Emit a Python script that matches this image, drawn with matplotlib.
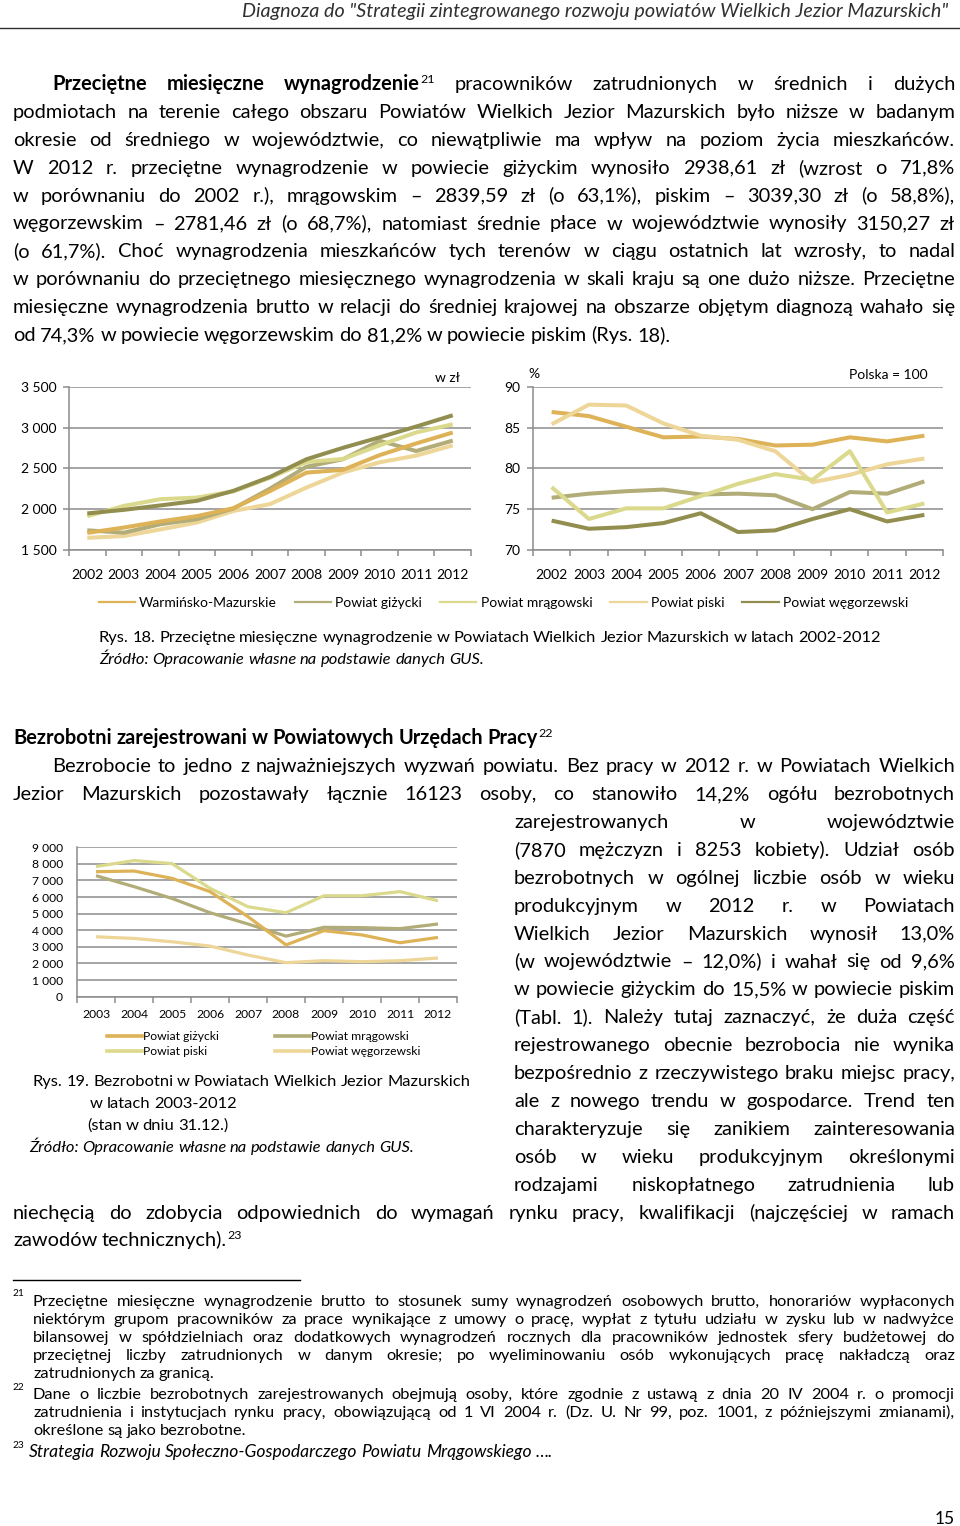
import matplotlib
matplotlib.use("Agg")
import matplotlib.pyplot as plt
import numpy as np
from matplotlib.lines import Line2D
from matplotlib.ticker import FuncFormatter
from matplotlib.transforms import IdentityTransform

W, H = 960, 1526
FONT = ["Lato", "DejaVu Sans"]
plt.rcParams["font.family"] = FONT

# --- data -------------------------------------------------------------------
YEARS_WAGE = ["2002", "2003", "2004", "2005", "2006", "2007",
              "2008", "2009", "2010", "2011", "2012"]
SERIES_WAGE = ["Warmińsko-Mazurskie", "Powiat giżycki", "Powiat mrągowski",
               "Powiat piski", "Powiat węgorzewski"]

# average monthly wage, zl
WAGE_WM = [1948, 1992, 2046, 2102, 2225, 2395, 2612, 2752, 2880, 3012, 3150]
WAGE_GIZ = [1710, 1775, 1850, 1915, 2012, 2222, 2448, 2482, 2662, 2805, 2939]
WAGE_MRA = [1741, 1712, 1815, 1877, 2008, 2252, 2520, 2612, 2838, 2712, 2840]
WAGE_PIS = [1914, 2040, 2122, 2142, 2218, 2385, 2578, 2615, 2782, 2940, 3039]
WAGE_WEG = [1649, 1671, 1752, 1836, 1978, 2062, 2265, 2450, 2574, 2656, 2781]

# relative to Poland = 100
REL_WM = [86.9, 86.4, 85.1, 83.8, 83.9, 83.6, 82.8, 82.9, 83.8, 83.3, 84.0]
REL_GIZ = [76.4, 76.9, 77.2, 77.4, 76.8, 76.9, 76.7, 75.0, 77.1, 76.9, 78.4]
REL_MRA = [77.7, 73.8, 75.1, 75.1, 76.6, 78.1, 79.3, 78.6, 82.1, 74.6, 75.7]
REL_PIS = [85.4, 87.8, 87.7, 85.5, 84.0, 83.5, 82.1, 78.3, 79.2, 80.5, 81.2]
REL_WEG = [73.6, 72.6, 72.8, 73.3, 74.5, 72.2, 72.4, 73.8, 75.0, 73.5, 74.3]

# registered unemployed (31.12.)
YEARS_UNEMP = ["2003", "2004", "2005", "2006", "2007",
               "2008", "2009", "2010", "2011", "2012"]
UN_GIZ = [7530, 7570, 7130, 6330, 4820, 3120, 3980, 3720, 3250, 3570]
UN_MRA = [7290, 6630, 5920, 5060, 4380, 3650, 4180, 4160, 4100, 4380]
UN_PIS = [7840, 8200, 8020, 6530, 5420, 5060, 6080, 6080, 6330, 5780]
UN_WEG = [3610, 3510, 3310, 3050, 2510, 2050, 2170, 2110, 2170, 2330]

GOLD = "#DEB257"
GREY_OLIVE = "#B2AC78"
PALE_GREEN = "#DAD98C"
BEIGE = "#EDD698"
DARK_OLIVE = "#928E50"
GRID = "#8C8C8C"

BODY = 14.4
NOTE = 11.8
CAP = 11.85

fig = plt.figure(figsize=(W / 100, H / 100), dpi=100)
TR = IdentityTransform()
renderer = fig.canvas.get_renderer()


def put(y, text, x0, x1=None, size=BODY, bold_words=0, style="normal",
        weight="normal", color="black"):
    """Write one line of text; justified between x0 and x1 when x1 is given.
    y is the baseline in page pixels from the top."""
    words = text.split(" ")
    items = []
    for i, w in enumerate(words):
        base, _, sup = w.partition("^")
        wt = "bold" if (i < bold_words or weight == "bold") else "normal"
        arts = []
        if base:
            arts.append((fig.text(0, 0, base, fontsize=size, fontweight=wt,
                                  style=style, color=color, transform=TR,
                                  va="baseline", ha="left"), 0))
        if sup:
            arts.append((fig.text(0, 0, sup, fontsize=size * 0.62,
                                  style=style, color=color, transform=TR,
                                  va="baseline", ha="left"), size * 0.5))
        items.append(arts)
    widths = []
    for arts in items:
        widths.append([a.get_window_extent(renderer).width for a, _ in arts])
    total = sum(sum(w) for w in widths)
    if x1 is not None and len(items) > 1:
        gap = (x1 - x0 - total) / (len(items) - 1)
    else:
        gap = size * 0.23 * 100 / 72
    x = x0
    for arts, ws in zip(items, widths):
        for (a, dy), wd in zip(arts, ws):
            a.set_position((x, H - y + dy))
            x += wd
        x += gap


# --- header -----------------------------------------------------------------
fig.text(948, H - 17, 'Diagnoza do "Strategii zintegrowanego rozwoju powiatów '
         'Wielkich Jezior Mazurskich"', transform=TR, ha="right",
         va="baseline", fontsize=14.2, style="italic", color="#303030")
fig.add_artist(Line2D([0, W], [H - 28, H - 28], transform=TR, color="#303030",
                      lw=1.0))

# --- paragraph 1 --------------------------------------------------------------
P1 = [
    "Przeciętne miesięczne wynagrodzenie^21 pracowników zatrudnionych w średnich i dużych",
    "podmiotach na terenie całego obszaru Powiatów Wielkich Jezior Mazurskich było niższe w badanym",
    "okresie od średniego w województwie, co niewątpliwie ma wpływ na poziom życia mieszkańców.",
    "W 2012 r. przeciętne wynagrodzenie w powiecie giżyckim wynosiło 2938,61 zł (wzrost o 71,8%",
    "w porównaniu do 2002 r.), mrągowskim – 2839,59 zł (o 63,1%), piskim – 3039,30 zł (o 58,8%),",
    "węgorzewskim – 2781,46 zł (o 68,7%), natomiast średnie płace w województwie wynosiły 3150,27 zł",
    "(o 61,7%). Choć wynagrodzenia mieszkańców tych terenów w ciągu ostatnich lat wzrosły, to nadal",
    "w porównaniu do przeciętnego miesięcznego wynagrodzenia w skali kraju są one dużo niższe. Przeciętne",
    "miesięczne wynagrodzenia brutto w relacji do średniej krajowej na obszarze objętym diagnozą wahało się",
    "od 74,3% w powiecie węgorzewskim do 81,2% w powiecie piskim (Rys. 18).",
]
for i, ln in enumerate(P1):
    y = 90 + i * 27.9
    if i == 0:
        put(y, ln, 52, 955, bold_words=3)
    elif i == len(P1) - 1:
        put(y, ln, 13)
    else:
        put(y, ln, 13, 955)


# --- chart helpers ------------------------------------------------------------
def rect(x0, y0, x1, y1):
    return [x0 / W, 1 - y1 / H, (x1 - x0) / W, (y1 - y0) / H]


def style_axis(ax, labels, ylim, yticks, fmt, size, xpad):
    n = len(labels)
    ax.set_xlim(-0.5, n - 0.5)
    ax.set_ylim(*ylim)
    ax.set_yticks(yticks)
    ax.yaxis.set_major_formatter(FuncFormatter(fmt))
    ax.grid(axis="y", color=GRID, lw=1.1)
    ax.set_axisbelow(True)
    for s in ("top", "right"):
        ax.spines[s].set_visible(False)
    for s in ("left", "bottom"):
        ax.spines[s].set_color(GRID)
        ax.spines[s].set_linewidth(1.1)
    ax.set_xticks(range(n))
    ax.set_xticklabels(labels)
    ax.set_xticks(np.arange(n + 1) - 0.5, minor=True)
    ax.tick_params(axis="x", which="major", length=0, pad=xpad, labelsize=size)
    ax.tick_params(axis="x", which="minor", length=4, color=GRID, width=1.1)
    ax.tick_params(axis="y", length=4, color=GRID, width=1.1, pad=5,
                   labelsize=size)


def thousands(v, _):
    return f"{v:,.0f}".replace(",", " ")


# --- chart 1: wages -----------------------------------------------------------
ax1 = fig.add_axes(rect(69, 386.7, 471, 550))
x = np.arange(len(YEARS_WAGE))
for vals, col in [(WAGE_WEG, BEIGE), (WAGE_MRA, GREY_OLIVE), (WAGE_GIZ, GOLD),
                  (WAGE_PIS, PALE_GREEN), (WAGE_WM, DARK_OLIVE)]:
    ax1.plot(x, vals, color=col, lw=2.9, solid_capstyle="butt")
style_axis(ax1, YEARS_WAGE, (1500, 3500), [1500, 2000, 2500, 3000, 3500],
           thousands, 10, 14)
fig.text(460, H - 382, "w zł", transform=TR, ha="right", va="baseline",
         fontsize=10)

# --- chart 2: relative wages --------------------------------------------------
ax2 = fig.add_axes(rect(533, 386.7, 943, 550))
for vals, col in [(REL_WEG, DARK_OLIVE), (REL_GIZ, GREY_OLIVE),
                  (REL_WM, GOLD), (REL_PIS, BEIGE), (REL_MRA, PALE_GREEN)]:
    ax2.plot(x, vals, color=col, lw=2.9, solid_capstyle="butt")
style_axis(ax2, YEARS_WAGE, (70, 90), [70, 75, 80, 85, 90],
           lambda v, _: f"{v:.0f}", 10, 14)
fig.text(528, H - 378, "%", transform=TR, ha="left", va="baseline",
         fontsize=10)
fig.text(928, H - 379, "Polska = 100", transform=TR, ha="right",
         va="baseline", fontsize=10)

# shared legend
leg_cols = [GOLD, GREY_OLIVE, PALE_GREEN, BEIGE, DARK_OLIVE]
handles = [Line2D([], [], color=c, lw=1.6) for c in leg_cols]
fig.legend(handles, SERIES_WAGE, loc="center left",
           bbox_to_anchor=(92 / W, 1 - 603 / H), ncol=5, frameon=False,
           fontsize=10, handlelength=2.6, handletextpad=0.3,
           columnspacing=1.3, borderpad=0)

put(642, "Rys. 18. Przeciętne miesięczne wynagrodzenie w Powiatach Wielkich "
    "Jezior Mazurskich w latach 2002-2012", 99, size=CAP)
put(664, "Źródło: Opracowanie własne na podstawie danych GUS.", 99, size=CAP,
    style="italic")

# --- section 2 ----------------------------------------------------------------
put(744, "Bezrobotni zarejestrowani w Powiatowych Urzędach Pracy^22", 13,
    weight="bold")
put(772, "Bezrobocie to jedno z najważniejszych wyzwań powiatu. Bez pracy w "
    "2012 r. w Powiatach Wielkich", 52, 955)
put(800, "Jezior Mazurskich pozostawały łącznie 16123 osoby, co stanowiło "
    "14,2% ogółu bezrobotnych", 13, 955)
P2 = [
    "zarejestrowanych w województwie",
    "(7870 mężczyzn i 8253 kobiety). Udział osób",
    "bezrobotnych w ogólnej liczbie osób w wieku",
    "produkcyjnym w 2012 r. w Powiatach",
    "Wielkich Jezior Mazurskich wynosił 13,0%",
    "(w województwie – 12,0%) i wahał się od 9,6%",
    "w powiecie giżyckim do 15,5% w powiecie piskim",
    "(Tabl. 1). Należy tutaj zaznaczyć, że duża część",
    "rejestrowanego obecnie bezrobocia nie wynika",
    "bezpośrednio z rzeczywistego braku miejsc pracy,",
    "ale z nowego trendu w gospodarce. Trend ten",
    "charakteryzuje się zanikiem zainteresowania",
    "osób w wieku produkcyjnym określonymi",
    "rodzajami niskopłatnego zatrudnienia lub",
]
for i, ln in enumerate(P2):
    put(828 + i * 27.9, ln, 514, 955)
put(1219, "niechęcią do zdobycia odpowiednich do wymagań rynku pracy, "
    "kwalifikacji (najczęściej w ramach", 13, 955)
put(1246, "zawodów technicznych).^23", 13)

# --- chart 3: unemployed ------------------------------------------------------
ax3 = fig.add_axes(rect(77, 847.3, 457, 996.7))
x3 = np.arange(len(YEARS_UNEMP))
for vals, col in [(UN_WEG, BEIGE), (UN_MRA, GREY_OLIVE), (UN_PIS, PALE_GREEN),
                  (UN_GIZ, GOLD)]:
    ax3.plot(x3, vals, color=col, lw=2.3, solid_capstyle="butt")
style_axis(ax3, YEARS_UNEMP, (0, 9000), range(0, 9001, 1000), thousands,
           8.7, 9)
ax3.tick_params(axis="y", length=0, pad=10)
h3 = [Line2D([], [], color=c, lw=2.6) for c in (GOLD, PALE_GREEN, GREY_OLIVE,
                                                BEIGE)]
fig.legend(h3, ["Powiat giżycki", "Powiat piski", "Powiat mrągowski",
                "Powiat węgorzewski"], loc="upper left",
           bbox_to_anchor=(101 / W, 1 - 1025 / H), ncol=2, frameon=False,
           fontsize=8.7, handlelength=2.9, handletextpad=0.1,
           columnspacing=4.6, labelspacing=0.35, borderpad=0)

put(1086, "Rys. 19. Bezrobotni w Powiatach Wielkich Jezior Mazurskich", 33,
    size=CAP)
put(1108, "w latach 2003-2012", 90, size=CAP)
put(1130, "(stan w dniu 31.12.)", 87, size=CAP)
put(1152, "Źródło: Opracowanie własne na podstawie danych GUS.", 29, size=CAP,
    style="italic")

# --- footnotes ----------------------------------------------------------------
fig.add_artist(Line2D([13, 300], [H - 1280, H - 1280], transform=TR,
                      color="black", lw=1.0))
F21 = [
    "Przeciętne miesięczne wynagrodzenie brutto to stosunek sumy wynagrodzeń osobowych brutto, honorariów wypłaconych",
    "niektórym grupom pracowników za prace wynikające z umowy o pracę, wypłat z tytułu udziału w zysku lub w nadwyżce",
    "bilansowej w spółdzielniach oraz dodatkowych wynagrodzeń rocznych dla pracowników jednostek sfery budżetowej do",
    "przeciętnej liczby zatrudnionych w danym okresie; po wyeliminowaniu osób wykonujących pracę nakładczą oraz",
    "zatrudnionych za granicą.",
]
F22 = [
    "Dane o liczbie bezrobotnych zarejestrowanych obejmują osoby, które zgodnie z ustawą z dnia 20 IV 2004 r. o promocji",
    "zatrudnienia i instytucjach rynku pracy, obowiązującą od 1 VI 2004 r. (Dz. U. Nr 99, poz. 1001, z późniejszymi zmianami),",
    "określone są jako bezrobotne.",
]
put(1302, "^21", 13, size=NOTE)
for i, ln in enumerate(F21):
    put(1306 + i * 18, ln, 33, None if i == len(F21) - 1 else 955, size=NOTE)
put(1396, "^22", 13, size=NOTE)
for i, ln in enumerate(F22):
    put(1399 + i * 18, ln, 33, None if i == len(F22) - 1 else 955, size=NOTE)
put(1454, "^23", 13, size=NOTE)
put(1457, "Strategia Rozwoju Społeczno-Gospodarczego Powiatu Mrągowskiego ….",
    29, size=12.6, style="italic")

fig.text(955, H - 1524, "15", transform=TR, ha="right", va="baseline",
         fontsize=12.5)

fig.savefig("out.png", dpi=100)
